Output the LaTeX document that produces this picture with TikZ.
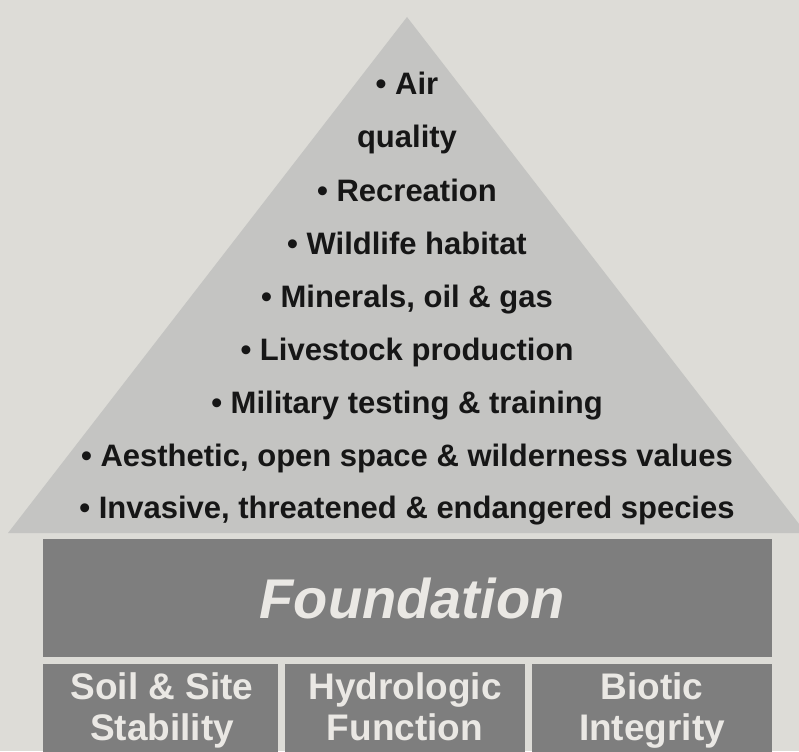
\documentclass[tikz,border=0pt]{standalone}
\usepackage{fontspec}
\setmainfont{Liberation Sans}
\definecolor{bgcol}{RGB}{221,220,215}
\definecolor{tricol}{RGB}{196,196,194}
\definecolor{boxcol}{RGB}{126,126,126}
\definecolor{boxtext}{RGB}{234,232,228}
\definecolor{ink}{RGB}{22,22,22}
\tikzset{
  item/.style={anchor=base, inner sep=0pt, text=ink, font=\fontsize{31}{31}\selectfont\bfseries},
  basebox/.style={fill=boxcol, inner sep=0pt, text=boxtext},
  subtext/.style={anchor=base, inner sep=0pt, text=boxtext, font=\fontsize{37}{37}\selectfont\bfseries}
}
\begin{document}
\begin{tikzpicture}[x=1pt,y=-1pt]
\useasboundingbox (0,0) rectangle (799,751);
\clip (0,0) rectangle (799,751);
\fill[bgcol] (0,0) rectangle (799,751);
\fill[tricol] (407,17) -- (8,533) -- (806,533) -- cycle;
\node[item] (l1) at (407,95) {• Air};
\node[item] (l2) at (407,148) {quality};
\node[item] (l3) at (407,201) {• Recreation};
\node[item] (l4) at (407,254) {• Wildlife habitat};
\node[item] (l5) at (407,307) {• Minerals, oil \& gas};
\node[item] (l6) at (407,360) {• Livestock production};
\node[item] (l7) at (407,413) {• Military testing \& training};
\node[item] (l8) at (407,466) {• Aesthetic, open space \& wilderness values};
\node[item] (l9) at (407,518) {• Invasive, threatened \& endangered species};
\node[basebox, minimum width=729pt, minimum height=118pt] (found) at (407.5,598) {};
\node[anchor=base, inner sep=0pt, text=boxtext, font=\fontsize{56}{56}\selectfont\bfseries\itshape] (ftext) at (412,618) {Foundation};
\node[basebox, minimum width=235pt, minimum height=92pt] (b1) at (160.5,710) {};
\node[basebox, minimum width=240pt, minimum height=92pt] (b2) at (405,710) {};
\node[basebox, minimum width=240pt, minimum height=92pt] (b3) at (652,710) {};
\node[subtext] (s1a) at (162,699) {Soil \& Site};
\node[subtext] (s1b) at (162,740) {Stability};
\node[subtext] (s2a) at (405,699) {Hydrologic};
\node[subtext] (s2b) at (405,740) {Function};
\node[subtext] (s3a) at (652,699) {Biotic};
\node[subtext] (s3b) at (652,740) {Integrity};
\end{tikzpicture}
\end{document}
